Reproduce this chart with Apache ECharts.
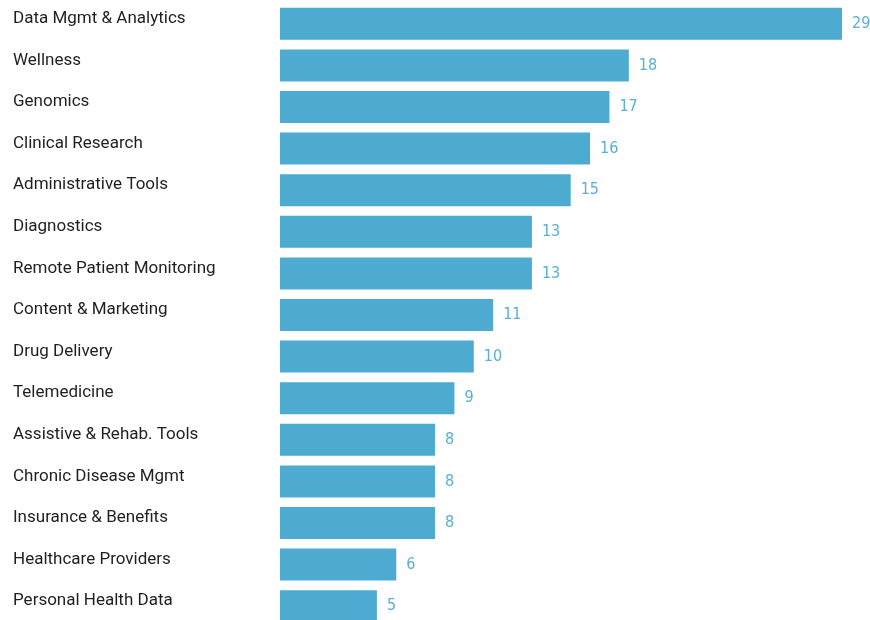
<!DOCTYPE html>
<html>
<head>
<meta charset="utf-8">
<script src="https://cdn.jsdelivr.net/npm/echarts@6/dist/echarts.min.js"></script>
<style>
	html, body { margin: 0; padding: 0; background: #fff; }
	#chart { width: 870px; height: 620px; }
</style>
</head>
<body>
<div id="chart"></div>
<script>
const categories = [
	'Data Mgmt & Analytics',
	'Wellness',
	'Genomics',
	'Clinical Research',
	'Administrative Tools',
	'Diagnostics',
	'Remote Patient Monitoring',
	'Content & Marketing',
	'Drug Delivery',
	'Telemedicine',
	'Assistive & Rehab. Tools',
	'Chronic Disease Mgmt',
	'Insurance & Benefits',
	'Healthcare Providers',
	'Personal Health Data'
]
const counts = [29, 18, 17, 16, 15, 13, 13, 11, 10, 9, 8, 8, 8, 6, 5]

const node = document.getElementById('chart')
const myChart = echarts.init(node)

const option = {
	animation: false,
	grid: {
		left: 280,
		top: 3,
		width: 562,
		height: 624,
		containLabel: false,
		outerBoundsMode: 'none'
	},
	xAxis: {
		type: 'value',
		min: 0,
		max: 29,
		show: false
	},
	yAxis: {
		type: 'category',
		inverse: true,
		data: categories,
		axisLine: { show: false },
		axisTick: { show: false },
		axisLabel: {
			align: 'left',
			verticalAlign: 'bottom',
			lineHeight: 10,
			margin: 267,
			fontFamily: 'Roboto, sans-serif',
			fontSize: 17,
			color: '#1f1f1f'
		}
	},
	series: [
		{
			type: 'bar',
			data: counts,
			barWidth: 32,
			itemStyle: { color: '#4dabd1' },
			label: {
				show: true,
				position: 'right',
				distance: 10,
				fontFamily: '"DejaVu Sans Condensed", "Liberation Sans Narrow", sans-serif',
				fontSize: 16,
				color: '#5aafd2'
			}
		}
	]
}

myChart.setOption(option)

window.addEventListener('resize', () => {
	myChart.resize()
})
</script>
</body>
</html>
